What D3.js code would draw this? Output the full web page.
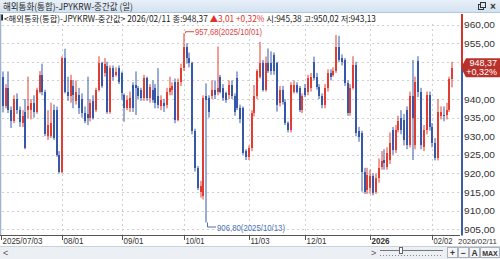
<!DOCTYPE html>
<html>
<head>
<meta charset="utf-8">
<script src="https://cdn.jsdelivr.net/npm/d3@7"></script>
<style>
  body { margin: 0; overflow: hidden; background: #fff; }
  svg { display: block; }
  text { font-family: "Liberation Sans", Arial, sans-serif; }
  .kr { font-family: "Noto Sans CJK KR", "Noto Sans", sans-serif; }
</style>
<title>JPYKRW</title>
</head>
<body>
<script>
// trading days (weekdays) from first to last candle
const firstDay = "2025-07-03";
const lastDay = "2026-02-11";

const opens = [
  946, 938, 943, 937, 934, 940, 937, 933.5, 936.6, 937,
  937, 939, 936.5, 942, 946.5, 942, 930, 930, 937, 937,
  925, 920.5, 951, 942, 940.8, 943.5, 939.5, 941, 940, 936.2,
  936, 934.8, 939.5, 937, 942.5, 949.6, 947, 949, 936.5, 948.3,
  946.5, 948.3, 947, 941, 937.5, 937.5, 943.8, 943.8, 942.9, 942.5,
  940.2, 945.6, 940.2, 942.5, 942.9, 940.7, 938, 938.9, 938.4, 942,
  942.5, 944.7, 934.4, 944.7, 948.3, 954.1, 951, 949.6, 931.3, 921.4,
  915.1, 913.8, 940.7, 940.2, 940.7, 942.5, 942, 946, 942.9, 941.5,
  941.1, 943.8, 940.7, 945.6, 937.5, 937.5, 925.9, 924.5, 926.8, 936.2,
  940.7, 946, 949.6, 942.5, 949.6, 949.6, 951.9, 949.6, 938.9, 942.5,
  939.3, 933.5, 931.7, 942, 943.8, 942.9, 937.1, 942.9, 942, 942.9,
  950, 946, 943.3, 940.7, 938.4, 942.9, 946.9, 946.5, 947.4, 954.1,
  951, 950.5, 944.2, 936.2, 942.9, 949.2, 931.3, 930.8, 920.5, 915.5,
  916, 919.2, 915, 918.7, 921.8, 923.6, 921.8, 923.6, 931.7, 926.3,
  931.7, 934.8, 934.4, 937.1, 927.7, 940.7, 927.7, 950.1, 942, 927.2,
  931.7, 941.1, 932.6, 928.1, 924.1, 935.3, 935.7, 935.7, 937.1, 945.38
];
const highs = [
  947.4, 944, 947.4, 938, 941, 941.5, 938, 937, 940, 946,
  940, 941, 943, 947.5, 949.5, 942.5, 937, 939, 938.5, 938,
  926, 951.5, 953.5, 946, 946.5, 945, 945, 943, 941.5, 938,
  946, 940, 941, 943, 951.5, 950, 951, 950, 949, 949,
  948.5, 949, 947.4, 941.5, 941, 942, 944.5, 947.4, 943.5, 943,
  946.5, 946, 944, 945, 944, 948.3, 941, 940, 943, 946,
  944.5, 945.5, 945.5, 949.5, 957.68, 955, 952.5, 950, 932, 922,
  918, 941, 944.2, 941, 945, 945, 954.1, 946.5, 944, 942,
  945, 945, 941.5, 947.4, 938.5, 938, 926.5, 927.5, 937, 943.8,
  948, 955.4, 950.5, 951.4, 953.6, 952.8, 952.5, 950, 943.5, 943.5,
  940, 934, 944.5, 945, 944.5, 943.5, 941.5, 944, 946.5, 947,
  951.4, 947, 944, 941.5, 944, 948, 948, 948.5, 957.2, 957,
  952, 951, 945, 944, 951.5, 950, 932.5, 931.5, 921.5, 921.5,
  921, 920, 920, 924, 926, 926.5, 927, 931, 932.5, 933,
  935.5, 937, 936, 938, 942, 950.5, 946, 951.5, 943, 933,
  942, 942, 933.5, 929.5, 940, 938, 938, 939, 946, 950.02
];
const lows = [
  936.4, 937.5, 936.2, 932.2, 933.5, 936, 932.5, 932.5, 926.5, 934.8,
  934.5, 935, 936, 941.5, 941, 930, 929, 929.5, 929, 924.5,
  920, 920, 941.5, 939.5, 939, 937.5, 938.5, 936, 935, 933.5,
  933, 934, 934.5, 936.5, 942, 943, 946, 936, 936, 945,
  946, 944, 939.8, 933.9, 937, 936.5, 936.5, 935.7, 940, 939.5,
  939.5, 939.5, 939, 939, 937.5, 937.5, 937, 936.5, 937.5, 941,
  941, 933.5, 934, 943.5, 947.5, 949.5, 948.5, 930.5, 920.5, 915.5,
  913.5, 913, 906.8, 935, 940, 940, 941, 941.5, 939.5, 939,
  940, 940, 935.5, 937, 933.5, 925, 923.6, 923.6, 926, 935.3,
  940, 945.5, 942, 942, 947, 946.5, 946.5, 936.6, 938, 938.5,
  933, 931, 931, 941.5, 941.5, 936.5, 936.2, 940.5, 941, 942,
  945, 942.5, 940, 937.5, 937.5, 942, 945, 946, 947, 950,
  949, 943.5, 935.5, 935.5, 942.5, 930, 928.5, 915.1, 914.5, 914.5,
  914.5, 914.1, 914.5, 917.5, 921, 921, 921, 922.5, 925, 925.5,
  931, 930.5, 927.5, 926.5, 927, 923.6, 926.5, 940.5, 926.5, 926,
  930.5, 931.5, 927, 923.5, 923.5, 934.5, 934, 934.5, 936.5, 943.13
];
const closes = [
  938, 943, 937, 934, 940, 937, 933.9, 935.5, 926.8, 938,
  939, 936.5, 942.5, 946.5, 942, 930.5, 933, 933.5, 929.5, 925,
  920.5, 951, 942, 940.8, 945, 941, 942, 937.5, 936.2, 934,
  935, 938.9, 935, 942.5, 949.6, 943.5, 949.3, 936.5, 948.3, 946,
  947.3, 944.7, 941.5, 937.5, 939.8, 940.2, 937.5, 942.9, 940.7, 940.2,
  945.6, 940.2, 943.3, 939.8, 938.9, 938.4, 939.8, 938, 942, 942.9,
  943.4, 934.4, 944.7, 948.3, 954.1, 951, 949.6, 931.3, 921.4, 916,
  916.5, 940.2, 939.8, 936.6, 942.5, 941.1, 942.9, 942, 940.2, 939.8,
  943.8, 940.7, 936.6, 937.5, 934.5, 925.4, 924.5, 926.8, 936.2, 940.7,
  947.4, 949.6, 942.5, 949.6, 947.4, 947.4, 947.4, 938.4, 942.5, 939.3,
  933.5, 931.7, 943.8, 943.8, 942, 937.1, 940.7, 941.1, 945.6, 946,
  945.6, 943.3, 940.7, 938.4, 942.9, 946.9, 946, 947.4, 954.1, 950.5,
  950, 944.2, 936.2, 942.9, 949.2, 930.8, 929.9, 920.5, 915.1, 919.6,
  919.2, 914.7, 918.7, 921.4, 923.2, 922.7, 925.4, 928.1, 926.3, 931.7,
  934, 931.7, 929, 927.7, 940.7, 935, 944.7, 942, 927.7, 931.7,
  941.1, 932.6, 928.1, 924.1, 936.6, 936.6, 935.3, 937.1, 945.36, 948.37
];

const tickDays = ["2025-07-03", "2025-08-01", "2025-09-01", "2025-10-01", "2025-11-03", "2025-12-01", "2026-01-01", "2026-02-02"];
const tickLabels = ["2025/07/03", "08/01", "09/01", "10/01", "11/03", "12/01", "2026", "02/02"];
const tickWidths = [40, 20, 20, 19, 19, 20, 18, 19];
const yTicks = [960, 955, 950, 945, 940, 935, 930, 925, 920, 915, 910, 905];

const markDays = ["2025-10-01", "2025-10-13"];
const markValues = [957.68, 906.80];
const markLabels = ["957,68(2025/10/01)", "906,80(2025/10/13)"];

const titleText = "해외통화(통합)-JPYKRW-중간값 (일)";
const infoParts = ["<해외통화(통합)-JPYKRW-중간값> 2026/02/11 종:948,37 ", "▲3,01 +0,32% ", "시:945,38 고:950,02 저:943,13"];
const lastLabel = "2026/02/11";
const lastPrice = 948.37;
const lastChange = "+0,32%";

const W = 500, H = 259;
const upColor = "#e23d33", downColor = "#3658aa";

const parse = d3.timeParse("%Y-%m-%d");
const fmtDay = d3.timeFormat("%Y-%m-%d");
const days = d3.timeDay.range(parse(firstDay), d3.timeDay.offset(parse(lastDay), 1))
  .filter(d => d.getDay() !== 0 && d.getDay() !== 6)
  .map(fmtDay);

const candles = days.map((d, i) => ({
  day: d, o: opens[i], h: highs[i], l: lows[i], c: closes[i]
}));

const svg = d3.select("body").append("svg")
  .attr("width", W).attr("height", H);

// Title bar
const grad = svg.append("defs").append("linearGradient")
  .attr("id", "tb").attr("x1", 0).attr("y1", 0).attr("x2", 0).attr("y2", 1);
grad.append("stop").attr("offset", "0%").attr("stop-color", "#e8f0f9");
grad.append("stop").attr("offset", "100%").attr("stop-color", "#d2e1f0");
svg.append("rect").attr("width", W).attr("height", 13).attr("fill", "url(#tb)");
svg.append("line").attr("x1", 0).attr("x2", W).attr("y1", 12.5).attr("y2", 12.5)
  .attr("stroke", "#b4c7dc");
svg.append("text").attr("class", "kr")
  .attr("x", 3).attr("y", 10)
  .attr("font-size", 9).attr("fill", "#2a2a2a")
  .attr("textLength", 130).attr("lengthAdjust", "spacingAndGlyphs")
  .text(titleText);
// window icons
svg.append("rect").attr("x", 478.5).attr("y", 4.5).attr("width", 5).attr("height", 5)
  .attr("fill", "none").attr("stroke", "#333");
svg.append("rect").attr("x", 480.5).attr("y", 2.5).attr("width", 5).attr("height", 5)
  .attr("fill", "#dbe7f3").attr("stroke", "#333");
svg.append("text").attr("x", 490).attr("y", 10).attr("font-size", 10)
  .attr("font-weight", "bold").attr("fill", "#333").text("×");

// Info line (one text, coloured parts)
svg.append("rect").attr("x", 1).attr("y", 14.5).attr("width", 2).attr("height", 6).attr("fill", "#222");
const infoColor = ["#222", "#e0322b", "#222"];
const info = svg.append("text").attr("class", "kr")
  .attr("x", 4).attr("y", 21.5)
  .attr("font-size", 8.5)
  .attr("textLength", 372).attr("lengthAdjust", "spacingAndGlyphs")
  .attr("xml:space", "preserve");
infoParts.forEach((t, i) => {
  info.append("tspan").attr("fill", infoColor[i]).text(t);
});

// Scales
const x = d3.scaleBand().domain(days).range([1, 454]).padding(0.3);
const cx = d => Math.round(x(d) + x.bandwidth() / 2);
const y = d3.scaleLinear().domain([905, 960]).range([229.2, 24.6]);
const plotRight = 460, plotBottom = 235.5;

// Grid
const grid = svg.append("g")
  .attr("stroke", "#cfcfcf").attr("stroke-dasharray", "2,3");
grid.selectAll(".h").data(yTicks).enter().append("line")
  .attr("x1", 2).attr("x2", plotRight)
  .attr("y1", d => Math.round(y(d)) + 0.5).attr("y2", d => Math.round(y(d)) + 0.5);
grid.selectAll(".v").data(tickDays.slice(1)).enter().append("line")
  .attr("x1", d => cx(d) + 0.5).attr("x2", d => cx(d) + 0.5)
  .attr("y1", 24).attr("y2", plotBottom);

// left border
svg.append("line").attr("x1", 0.5).attr("x2", 0.5).attr("y1", 14).attr("y2", plotBottom)
  .attr("stroke", "#9fb3cf").attr("stroke-width", 1.5);

// Candles
const cg = svg.append("g");
const col = d => d.c >= d.o ? upColor : downColor;
cg.selectAll(".wick").data(candles).enter().append("line")
  .attr("x1", d => cx(d.day)).attr("x2", d => cx(d.day))
  .attr("y1", d => y(d.h)).attr("y2", d => y(d.l))
  .attr("stroke", col).attr("stroke-width", 1);
cg.selectAll(".body").data(candles).enter().append("rect")
  .attr("x", d => cx(d.day) - 1)
  .attr("width", 2)
  .attr("y", d => Math.round(y(Math.max(d.o, d.c))))
  .attr("height", d => Math.max(1, Math.round(y(Math.min(d.o, d.c))) - Math.round(y(Math.max(d.o, d.c)))))
  .attr("fill", col);

// High / low markers
const markColor = ["#e0453b", "#4a70b5"];
markDays.forEach((d, i) => {
  const px = cx(d) + 1, py = y(markValues[i]);
  const ty = i === 0 ? py - 1.5 : py + 4.5;
  svg.append("path")
    .attr("d", `M${px + 0.5},${py}V${ty}H${px + 9}`)
    .attr("fill", "none").attr("stroke", markColor[i]).attr("stroke-width", 1);
  svg.append("text")
    .attr("x", px + 10).attr("y", ty + 3.5)
    .attr("font-size", 9.5).attr("fill", markColor[i])
    .attr("textLength", i === 0 ? 67 : 68).attr("lengthAdjust", "spacingAndGlyphs")
    .text(markLabels[i]);
});

// Right axis
const priceY = y(lastPrice);
svg.append("line").attr("x1", 462).attr("x2", 462).attr("y1", 14).attr("y2", priceY)
  .attr("stroke", "#d2342c").attr("stroke-width", 2);
svg.append("line").attr("x1", 462).attr("x2", 462).attr("y1", priceY).attr("y2", plotBottom)
  .attr("stroke", "#3a5eab").attr("stroke-width", 2);
// labels hidden behind the price box are not drawn
svg.selectAll(".yl").data(yTicks.filter(v => Math.abs(y(v) - priceY) > 13)).enter().append("text")
  .attr("x", 464).attr("y", d => y(d) + 3.5)
  .attr("font-size", 9.5).attr("fill", "#333")
  .attr("textLength", 31).attr("lengthAdjust", "spacingAndGlyphs")
  .text(d => d3.format(".2f")(d).replace(".", ","));

// Price box
svg.append("path")
  .attr("d", `M461,${priceY}L466,${priceY - 9.5}H500V${priceY + 9.5}H466Z`)
  .attr("fill", "#b8322b");
svg.append("text").attr("x", 497).attr("y", priceY - 1.5).attr("text-anchor", "end")
  .attr("font-size", 9).attr("fill", "#fff")
  .text(d3.format(".2f")(lastPrice).replace(".", ","));
svg.append("text").attr("x", 497).attr("y", priceY + 7.5).attr("text-anchor", "end")
  .attr("font-size", 9).attr("fill", "#fff")
  .text(lastChange);

// X axis
svg.append("line").attr("x1", 0).attr("x2", plotRight).attr("y1", plotBottom).attr("y2", plotBottom)
  .attr("stroke", "#555");
tickDays.forEach((d, i) => {
  const tx = i === 0 ? 1.5 : cx(d) + 0.5;
  svg.append("line").attr("x1", tx).attr("x2", tx).attr("y1", plotBottom).attr("y2", 240)
    .attr("stroke", "#555");
  svg.append("text").attr("x", tx + 1).attr("y", 244)
    .attr("font-size", 9.5).attr("fill", "#333")
    .attr("font-weight", tickLabels[i] === "2026" ? "bold" : "normal")
    .attr("textLength", tickWidths[i]).attr("lengthAdjust", "spacingAndGlyphs")
    .text(tickLabels[i]);
});
svg.append("text").attr("x", 458).attr("y", 244)
  .attr("font-size", 8).attr("fill", "#333")
  .attr("textLength", 39).attr("lengthAdjust", "spacingAndGlyphs")
  .text(lastLabel);

// Scroll strip
svg.append("rect").attr("x", 0).attr("y", 246).attr("width", W).attr("height", 13).attr("fill", "#eceff3");
svg.append("line").attr("x1", 0).attr("x2", W).attr("y1", 246.5).attr("y2", 246.5).attr("stroke", "#c9d1db");
svg.append("text").attr("x", 3).attr("y", 256).attr("font-size", 9).attr("fill", "#555").text("<");
svg.append("text").attr("x", 371).attr("y", 256).attr("font-size", 9).attr("fill", "#555").text(">");
svg.append("line").attr("x1", 380).attr("x2", 443).attr("y1", 250.5).attr("y2", 250.5).attr("stroke", "#777");
svg.append("line").attr("x1", 380).attr("x2", 443).attr("y1", 255.5).attr("y2", 255.5)
  .attr("stroke", "#888").attr("stroke-dasharray", "1,2");
svg.append("rect").attr("x", 399.5).attr("y", 247.5).attr("width", 3).attr("height", 6)
  .attr("fill", "#fff").attr("stroke", "#666");
const btns = ["+", "−", "A", "MAX"], bx = [447, 458, 469, 480], bw = [10, 10, 10, 19];
btns.forEach((b, i) => {
  svg.append("rect").attr("x", bx[i] + 0.5).attr("y", 247.5).attr("width", bw[i]).attr("height", 10)
    .attr("fill", "#f4f5f7").attr("stroke", "#aab2bd");
  svg.append("text").attr("x", bx[i] + 0.5 + bw[i] / 2).attr("y", 255.5)
    .attr("text-anchor", "middle").attr("font-size", b === "MAX" ? 7 : 8.5)
    .attr("font-weight", "bold").attr("fill", "#333").text(b);
});
</script>
</body>
</html>
